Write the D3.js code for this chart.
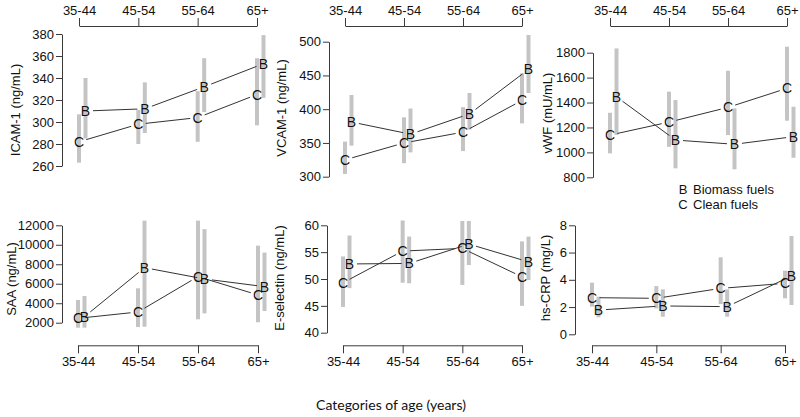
<!DOCTYPE html>
<html><head><meta charset="utf-8">
<script src="https://cdn.jsdelivr.net/npm/d3@7"></script>
<style>
body{margin:0;background:#fff;}
</style></head>
<body><svg id="c" width="800" height="417"></svg>
<script>
const categories = ["35-44","45-54","55-64","65+"];

const icamC = [282, 298, 304, 325], icamCLo = [263, 280, 282, 297], icamCHi = [307, 311, 328, 358];
const icamB = [310, 312, 332, 353], icamBLo = [285, 290, 309, 322], icamBHi = [340, 336, 358, 379];

const vcamC = [325, 350, 366, 413], vcamCLo = [304, 320, 338, 379], vcamCHi = [352, 388, 403, 453];
const vcamB = [381, 363, 393, 459], vcamBLo = [346, 336, 370, 424], vcamBHi = [421, 401, 424, 510];

const vwfC = [1139, 1243, 1361, 1514], vwfCLo = [992, 1045, 1139, 1254], vwfCHi = [1318, 1487, 1655, 1848];
const vwfB = [1446, 1099, 1065, 1126], vwfBLo = [1140, 872, 864, 957], vwfBHi = [1834, 1420, 1353, 1366];

const saaC = [2450, 3100, 6730, 4850], saaCLo = [1490, 1560, 2350, 2040], saaCHi = [4330, 5530, 12480, 9915];
const saaB = [2620, 7650, 6490, 5700], saaBLo = [1490, 1590, 2960, 3200], saaBHi = [4740, 12480, 11600, 9200];

const eselC = [49.3, 55.2, 55.7, 50.4], eselCLo = [44.8, 49.3, 48.9, 45.0], eselCHi = [54.2, 60.9, 60.8, 57.0];
const eselB = [52.8, 52.9, 56.5, 53.2], eselBLo = [48.3, 49.2, 52.6, 49.8], eselBHi = [58.1, 57.9, 60.8, 57.9];

const crpC = [2.69, 2.64, 3.37, 3.74], crpCLo = [2.03, 1.90, 2.22, 2.64], crpCHi = [3.79, 3.54, 5.65, 4.67];
const crpB = [1.78, 2.08, 2.03, 4.28], crpBLo = [1.25, 1.29, 1.29, 2.15], crpBHi = [2.76, 3.30, 3.30, 7.21];

const icamTicks = [260, 280, 300, 320, 340, 360, 380];
const vcamTicks = [300, 350, 400, 450, 500];
const vwfTicks = [800, 1000, 1200, 1400, 1600, 1800];
const saaTicks = [2000, 4000, 6000, 8000, 10000, 12000];
const eselTicks = [40, 45, 50, 55, 60];
const crpTicks = [0, 2, 4, 6, 8];

const yTitles = ["ICAM-1 (ng/mL)", "VCAM-1 (ng/mL)", "vWF (mU/mL)", "SAA (ng/mL)", "E-selectin (ng/mL)", "hs-CRP (mg/L)"];
const legendLetters = ["B", "C"];
const legendLabels = ["Biomass fuels", "Clean fuels"];
const xTitle = "Categories of age (years)";

const panels = [
  {title: yTitles[0], ticks: icamTicks, c: icamC, cLo: icamCLo, cHi: icamCHi, b: icamB, bLo: icamBLo, bHi: icamBHi,
   ax: 62, yr: [166, 34], xr: [79, 257], xAxisY: 26, top: true, tx: 15, ty: 110},
  {title: yTitles[1], ticks: vcamTicks, c: vcamC, cLo: vcamCLo, cHi: vcamCHi, b: vcamB, bLo: vcamBLo, bHi: vcamBHi,
   ax: 329, yr: [176.7, 41.7], xr: [345, 522], xAxisY: 26, top: true, tx: 281, ty: 108},
  {title: yTitles[2], ticks: vwfTicks, c: vwfC, cLo: vwfCLo, cHi: vwfCHi, b: vwfB, bLo: vwfBLo, bHi: vwfBHi,
   ax: 593, yr: [177.3, 52.7], xr: [610, 787], xAxisY: 26, top: true, tx: 547, ty: 113},
  {title: yTitles[3], ticks: saaTicks, c: saaC, cLo: saaCLo, cHi: saaCHi, b: saaB, bLo: saaBLo, bHi: saaBHi,
   ax: 62, yr: [322.7, 225.3], xr: [78, 258], xAxisY: 345.3, top: false, tx: 11, ty: 279},
  {title: yTitles[4], ticks: eselTicks, c: eselC, cLo: eselCLo, cHi: eselCHi, b: eselB, bLo: eselBLo, bHi: eselBHi,
   ax: 327, yr: [332.7, 225.3], xr: [343, 522], xAxisY: 345.3, top: false, tx: 279, ty: 278},
  {title: yTitles[5], ticks: crpTicks, c: crpC, cLo: crpCLo, cHi: crpCHi, b: crpB, bLo: crpBLo, bHi: crpBHi,
   ax: 575, yr: [334.3, 225.3], xr: [592, 785], xAxisY: 345.3, top: false, tx: 545, ty: 278}
];

const FONT = "'Liberation Sans', Arial, sans-serif";
const svg = d3.select("#c");
const axisColor = "#3a3a3a";
const barColor = "#c4c4c4";
const lineColor = "#333";
const bOffset = 6.5;
const gap = 7.5;

panels.forEach(p => {
  const g = svg.append("g");
  const y = d3.scaleLinear().domain([p.ticks[0], p.ticks[p.ticks.length - 1]]).range(p.yr);
  const x = d3.scalePoint().domain(categories).range(p.xr);

  // y axis
  const yAx = g.append("g").attr("transform", `translate(${p.ax},0)`)
    .call(d3.axisLeft(y).tickValues(p.ticks).tickFormat(d3.format("d")).tickSize(6).tickSizeOuter(0).tickPadding(2));
  yAx.attr("font-family", null);
  yAx.select(".domain").attr("stroke", axisColor);
  yAx.selectAll(".tick line").attr("stroke", axisColor);
  yAx.selectAll(".tick text").attr("font-size", 13).attr("fill", "#111").style("font-family", FONT);

  // x axis
  const xAxis = p.top ? d3.axisTop(x) : d3.axisBottom(x);
  const xAx = g.append("g").attr("transform", `translate(0,${p.xAxisY})`)
    .call(xAxis.tickSize(8).tickSizeOuter(0).tickPadding(3));
  xAx.select(".domain").attr("stroke", axisColor);
  xAx.selectAll(".tick line").attr("stroke", axisColor);
  xAx.selectAll(".tick text").attr("font-size", 13).attr("fill", "#111").style("font-family", FONT);

  // y title
  g.append("text").attr("transform", `translate(${p.tx},${p.ty}) rotate(-90)`)
    .attr("text-anchor", "middle").attr("dominant-baseline", "central")
    .attr("font-size", 13).attr("fill", "#111").style("font-family", FONT).text(p.title);

  const series = [
    {letter: "C", m: p.c, lo: p.cLo, hi: p.cHi, dx: 0},
    {letter: "B", m: p.b, lo: p.bLo, hi: p.bHi, dx: bOffset}
  ];

  // error bars
  series.forEach(s => {
    g.selectAll(null).data(categories).enter().append("line")
      .attr("x1", (d) => x(d) + s.dx).attr("x2", (d) => x(d) + s.dx)
      .attr("y1", (d, i) => y(s.lo[i])).attr("y2", (d, i) => y(s.hi[i]))
      .attr("stroke", barColor).attr("stroke-width", 4);
  });

  // connecting lines with gaps (type "b")
  series.forEach(s => {
    const pts = categories.map((d, i) => [x(d) + s.dx, y(s.m[i])]);
    for (let i = 0; i < pts.length - 1; i++) {
      const [x1, y1] = pts[i], [x2, y2] = pts[i + 1];
      const len = Math.hypot(x2 - x1, y2 - y1);
      if (len <= 2 * gap) continue;
      const ux = (x2 - x1) / len, uy = (y2 - y1) / len;
      g.append("line")
        .attr("x1", x1 + ux * gap).attr("y1", y1 + uy * gap)
        .attr("x2", x2 - ux * gap).attr("y2", y2 - uy * gap)
        .attr("stroke", lineColor).attr("stroke-width", 1);
    }
  });

  // letters
  series.forEach(s => {
    g.selectAll(null).data(categories).enter().append("text")
      .attr("x", (d) => x(d) + s.dx).attr("y", (d, i) => y(s.m[i]))
      .attr("dy", "0.36em").attr("text-anchor", "middle")
      .attr("font-size", 14).attr("fill", "#111").style("font-family", FONT).text(s.letter);
  });
});

// legend
const leg = svg.append("g");
legendLetters.forEach((l, i) => {
  leg.append("text").attr("x", 683).attr("y", 189 + i * 15.5).attr("dy", "0.36em")
    .attr("text-anchor", "middle").attr("font-size", 13).attr("fill", "#111").style("font-family", FONT).text(l);
  leg.append("text").attr("x", 693).attr("y", 189 + i * 15.5).attr("dy", "0.36em")
    .attr("font-size", 13).attr("fill", "#111").style("font-family", FONT).text(legendLabels[i]);
});

// x title
svg.append("text").attr("x", 391).attr("y", 405).attr("dy", "0.35em")
  .attr("text-anchor", "middle").attr("font-size", 14)
  .style("font-family", "Lato, 'Open Sans', sans-serif").attr("fill", "#111").text(xTitle);
</script></body></html>
